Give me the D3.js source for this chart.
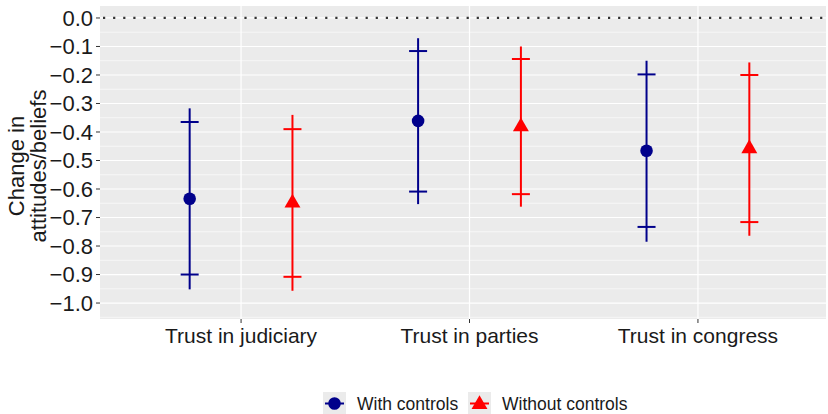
<!DOCTYPE html>
<html><head><meta charset="utf-8">
<script src="https://cdn.jsdelivr.net/npm/d3@7"></script>
<style>body{margin:0;background:#fff}svg{display:block}text{font-family:"Liberation Sans",Arial,sans-serif}</style>
</head><body><svg id="c" width="828" height="414"></svg>
<script>
const categories = ["Trust in judiciary", "Trust in parties", "Trust in congress"];
const seriesNames = ["With controls", "Without controls"];
const yTicks = [0, -0.1, -0.2, -0.3, -0.4, -0.5, -0.6, -0.7, -0.8, -0.9, -1.0];
// With controls
const withEst  = [-0.634, -0.361, -0.466];
const withLo95 = [-0.952, -0.653, -0.785];
const withHi95 = [-0.317, -0.071, -0.150];
const withLo90 = [-0.900, -0.609, -0.733];
const withHi90 = [-0.365, -0.116, -0.198];
// Without controls
const woEst  = [-0.649, -0.381, -0.458];
const woLo95 = [-0.957, -0.662, -0.764];
const woHi95 = [-0.340, -0.100, -0.156];
const woLo90 = [-0.908, -0.618, -0.716];
const woHi90 = [-0.390, -0.144, -0.200];

const colors = ["#00008B", "#FF0000"];
const svg = d3.select("#c");
const P = {l: 100, r: 826, t: 6, b: 319};

const x = d3.scalePoint().domain(categories).range([104, 835]).padding(0.6);
const y = d3.scaleLinear().domain([-1.056, 0.042]).range([P.b, P.t]);
const dodge = x.step() * 0.225;

const rows = [];
categories.forEach((c, i) => {
  rows.push({cat: c, s: 0, est: withEst[i], lo95: withLo95[i], hi95: withHi95[i], lo90: withLo90[i], hi90: withHi90[i]});
  rows.push({cat: c, s: 1, est: woEst[i], lo95: woLo95[i], hi95: woHi95[i], lo90: woLo90[i], hi90: woHi90[i]});
});
const px = d => x(d.cat) + (d.s === 0 ? -dodge : dodge);

svg.append("clipPath").attr("id", "clp").append("rect")
  .attr("x", P.l).attr("y", P.t).attr("width", P.r - P.l).attr("height", P.b - P.t);
svg.append("rect").attr("x", P.l).attr("y", P.t).attr("width", P.r - P.l).attr("height", P.b - P.t).attr("fill", "#EBEBEB");

const g = svg.append("g").attr("clip-path", "url(#clp)");
const minor = d3.range(-1.05, 0.05, 0.1).map(v => +v.toFixed(2));
g.selectAll(".mn").data(minor).join("line")
  .attr("x1", P.l).attr("x2", P.r).attr("y1", d => y(d)).attr("y2", d => y(d))
  .attr("stroke", "#fff").attr("stroke-width", 0.6);
g.selectAll(".mj").data(yTicks).join("line")
  .attr("x1", P.l).attr("x2", P.r).attr("y1", d => y(d)).attr("y2", d => y(d))
  .attr("stroke", "#fff").attr("stroke-width", 1.2);
g.selectAll(".vx").data(categories).join("line")
  .attr("x1", d => x(d)).attr("x2", d => x(d)).attr("y1", P.t).attr("y2", P.b)
  .attr("stroke", "#fff").attr("stroke-width", 1.2);
g.append("line").attr("x1", P.l + 3).attr("x2", P.r).attr("y1", y(0)).attr("y2", y(0))
  .attr("stroke", "#333").attr("stroke-width", 2.2).attr("stroke-dasharray", "2.2,7.9");

g.selectAll(".wh").data(rows).join("line")
  .attr("x1", px).attr("x2", px).attr("y1", d => y(d.lo95)).attr("y2", d => y(d.hi95))
  .attr("stroke", d => colors[d.s]).attr("stroke-width", 2);
const cw = 9;
["lo90", "hi90"].forEach(k => {
  g.selectAll(".cb" + k).data(rows).join("line")
    .attr("x1", d => px(d) - cw).attr("x2", d => px(d) + cw)
    .attr("y1", d => y(d[k])).attr("y2", d => y(d[k]))
    .attr("stroke", d => colors[d.s]).attr("stroke-width", 2);
});
const circ = d3.symbol().type(d3.symbolCircle).size(Math.PI * 6.3 * 6.3);
const r = 9.2;
const tri = `M0,${-r}L${r * 0.866},${r / 2}L${-r * 0.866},${r / 2}Z`;
g.selectAll(".pt").data(rows).join("path")
  .attr("transform", d => `translate(${px(d)},${y(d.est)})`)
  .attr("d", d => d.s === 0 ? circ() : tri)
  .attr("fill", d => colors[d.s]);

const ya = svg.append("g");
ya.selectAll("line").data(yTicks).join("line")
  .attr("x1", P.l - 4).attr("x2", P.l).attr("y1", d => y(d)).attr("y2", d => y(d))
  .attr("stroke", "#333").attr("stroke-width", 1);
ya.selectAll("text").data(yTicks).join("text")
  .attr("x", P.l - 7).attr("y", d => y(d)).attr("dy", "0.36em")
  .attr("text-anchor", "end").attr("font-size", 22).attr("fill", "#1a1a1a")
  .text(d => d3.format(".1f")(d).replace("-", "\u2212"));
const xa = svg.append("g");
xa.selectAll("line").data(categories).join("line")
  .attr("x1", d => x(d)).attr("x2", d => x(d)).attr("y1", P.b).attr("y2", P.b + 4)
  .attr("stroke", "#333");
xa.selectAll("text").data(categories).join("text")
  .attr("x", d => x(d)).attr("y", P.b + 24).attr("text-anchor", "middle")
  .attr("font-size", 21).attr("fill", "#1a1a1a").text(d => d);

const yt = svg.append("text").attr("transform", "translate(27,166) rotate(-90)")
  .attr("text-anchor", "middle").attr("font-size", 22).attr("fill", "#1a1a1a");
yt.append("tspan").attr("x", 0).attr("dy", "-0.15em").text("Change in");
yt.append("tspan").attr("x", 0).attr("dy", "1.02em").text("attitudes/beliefs");

const lg = svg.append("g");
const lx = [323, 468];
seriesNames.forEach((n, i) => {
  const k = lg.append("g").attr("transform", `translate(${lx[i]},392)`);
  k.append("rect").attr("width", 23).attr("height", 22).attr("fill", "#EBEBEB");
  k.append("line").attr("x1", 2).attr("x2", 21).attr("y1", 11.5).attr("y2", 11.5).attr("stroke", colors[i]).attr("stroke-width", 2);
  if (i === 0) {
    k.append("path").attr("transform", "translate(11.5,11.5)").attr("d", circ()).attr("fill", colors[0]);
  } else {
    k.append("path").attr("transform", "translate(11.5,12.5)").attr("d", tri).attr("fill", colors[1]);
  }
  k.append("text").attr("x", i === 0 ? 34 : 34).attr("y", 12).attr("dy", "0.35em").attr("font-size", 17.5)
    .attr("fill", "#1a1a1a").text(n);
});
</script></body></html>
